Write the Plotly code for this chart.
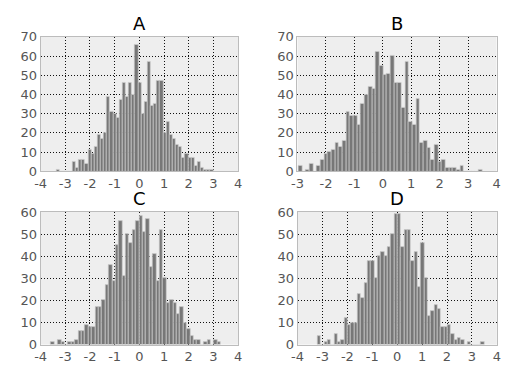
import numpy as np
import plotly.graph_objects as go

titles = ["A", "B", "C", "D"]

# histogram counts (50 bins each) and bin ranges
a_counts = [1, 0, 0, 0, 0, 5, 2, 6, 6, 4, 11, 9, 13, 19, 17, 20, 39, 31, 30, 28,
            37, 46, 39, 46, 40, 66, 46, 30, 36, 57, 34, 35, 47, 47, 20, 26, 19, 17, 14, 13,
            7, 9, 7, 7, 3, 5, 2, 1, 1, 1]
a_range = [-3.34, 2.99]

b_counts = [3, 0, 1, 4, 0, 3, 6, 9, 10, 11, 15, 13, 16, 31, 29, 29, 24, 35, 40, 44,
            43, 62, 55, 50, 51, 60, 46, 46, 33, 57, 26, 24, 38, 15, 16, 12, 6, 14, 5, 6,
            2, 2, 2, 1, 3, 0, 0, 0, 0, 1]
b_range = [-2.96, 3.49]

c_counts = [1, 0, 2, 1, 0, 1, 1, 2, 6, 6, 9, 8, 8, 17, 17, 20, 27, 36, 29, 45,
            56, 31, 50, 46, 52, 56, 58, 51, 57, 35, 41, 29, 52, 30, 19, 20, 19, 14, 17, 10,
            7, 4, 2, 2, 0, 1, 2, 0, 2, 1]
c_range = [-3.58, 3.3]

d_counts = [4, 0, 1, 2, 0, 5, 1, 2, 12, 9, 10, 10, 23, 21, 28, 38, 38, 30, 40, 42,
            40, 44, 50, 59, 59, 44, 52, 52, 38, 42, 26, 46, 30, 13, 15, 18, 16, 8, 8, 9,
            5, 2, 3, 2, 0, 1, 0, 0, 0, 1]
d_range = [-3.2, 3.5]

x_ticks_acd = [-4, -3, -2, -1, 0, 1, 2, 3, 4]
x_ticks_b = [-3, -2, -1, 0, 1, 2, 3, 4]
y_ticks_ab = [0, 10, 20, 30, 40, 50, 60, 70]
y_ticks_cd = [0, 10, 20, 30, 40, 50, 60]

panels = [
    (a_counts, a_range, x_ticks_acd, y_ticks_ab),
    (b_counts, b_range, x_ticks_b, y_ticks_ab),
    (c_counts, c_range, x_ticks_acd, y_ticks_cd),
    (d_counts, d_range, x_ticks_acd, y_ticks_cd),
]

W, H = 512, 384
# plot-area boxes in pixels (left, right, top, bottom)
boxes = [(35.3, 236.7, 31, 171), (297.3, 500.3, 31, 171),
         (35.3, 236.7, 213.3, 351.3), (297.4, 500.6, 213.3, 351.3)]

fig = go.Figure()
font = "DejaVu Sans, Liberation Sans, sans-serif"
layout = dict(
    width=W, height=H, margin=dict(l=0, r=0, t=0, b=0),
    paper_bgcolor="white", plot_bgcolor="#eeeeee",
    bargap=0, showlegend=False, font=dict(family=font, size=13, color="#555555"),
)
annotations = []
for i, ((counts, rng, xt, yt), box) in enumerate(zip(panels, boxes)):
    n = len(counts)
    edges = np.linspace(rng[0], rng[1], n + 1)
    centers = (edges[:-1] + edges[1:]) / 2
    w = edges[1] - edges[0]
    sfx = "" if i == 0 else str(i + 1)
    fig.add_trace(go.Bar(
        x=centers, y=counts, width=w, xaxis="x" + sfx, yaxis="y" + sfx,
        marker=dict(color="#777777", line=dict(color="#cfcfcf", width=0.7)),
    ))
    l, r, t, b = box
    dx = [l / W, r / W]
    dy = [1 - b / H, 1 - t / H]
    common = dict(showline=True, mirror=True, linecolor="#bcbcbc", linewidth=1,
                  showgrid=True, gridcolor="#111111", griddash="1px,2px", gridwidth=1,
                  zeroline=False, ticks="", tickfont=dict(size=13, color="#555555"))
    layout["xaxis" + sfx] = dict(domain=dx, anchor="y" + sfx, range=[xt[0], xt[-1]],
                                 tickvals=xt, ticktext=[str(v) for v in xt], **common)
    layout["yaxis" + sfx] = dict(domain=dy, anchor="x" + sfx, range=[yt[0], yt[-1]],
                                 tickvals=yt, ticktext=[str(v) for v in yt], **common)
    annotations.append(dict(text=titles[i], x=(dx[0] + dx[1]) / 2, y=dy[1],
                            xref="paper", yref="paper", xanchor="center", yanchor="bottom",
                            yshift=1, showarrow=False,
                            font=dict(size=18, color="black", family=font)))
layout["annotations"] = annotations
fig.update_layout(**layout)
fig.write_html("out.html", config={"displayModeBar": False},
               post_script="document.body.style.margin='0';")
